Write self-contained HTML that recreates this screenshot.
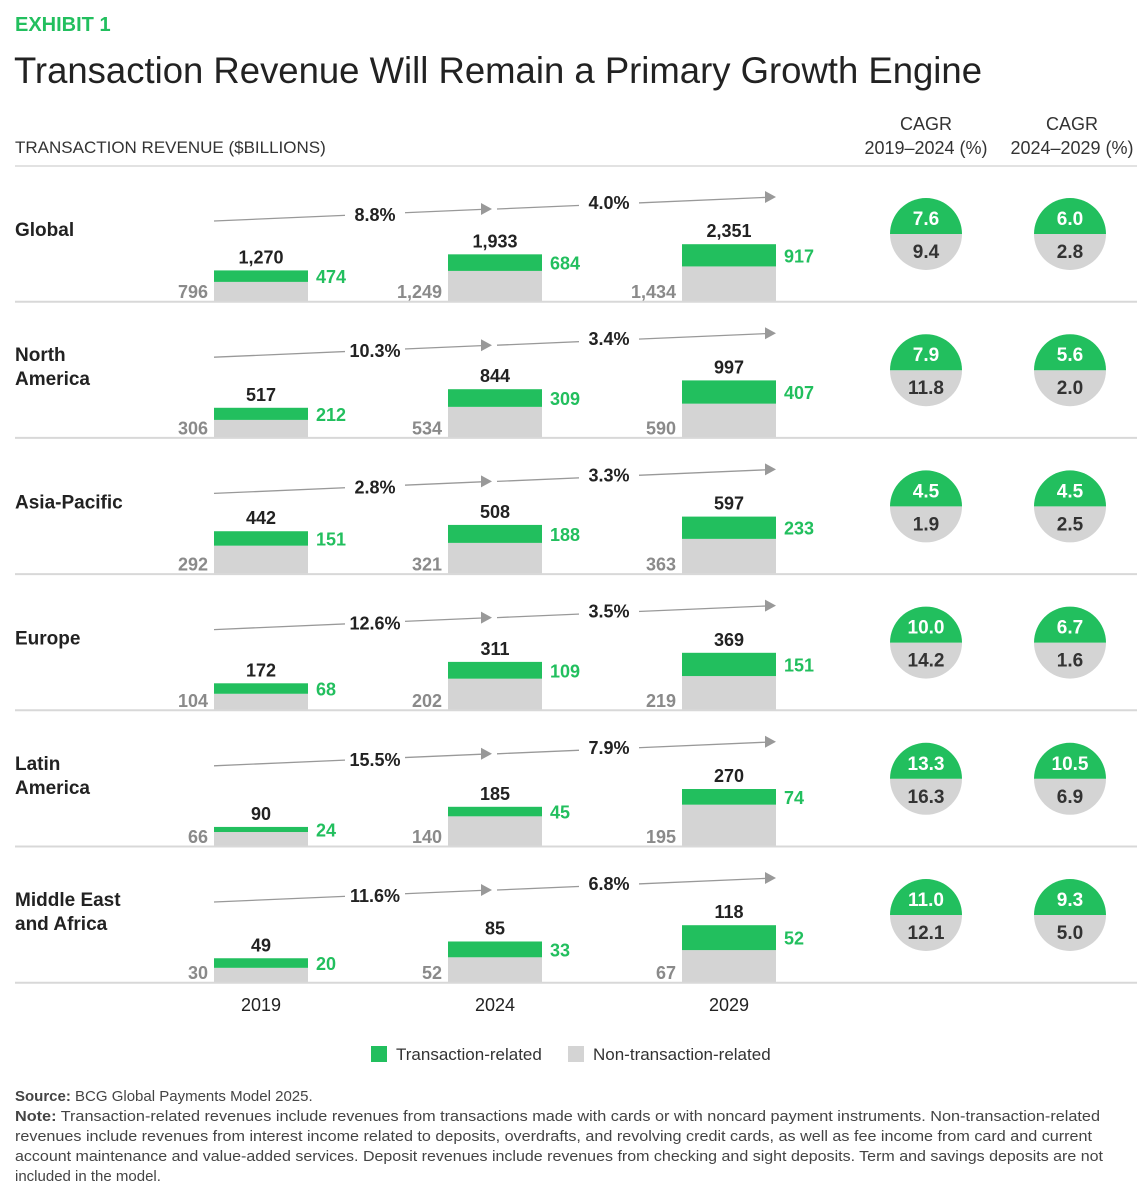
<!DOCTYPE html>
<html><head><meta charset="utf-8"><style>
body{margin:0;background:#fff;}
svg{display:block;font-family:"Liberation Sans",sans-serif;}
</style></head><body>
<svg id="chart" width="1148" height="1200" viewBox="0 0 1148 1200">
<text x="15" y="31" font-size="20" font-weight="bold" fill="#22bf5e">EXHIBIT 1</text>
<text x="14" y="83" font-size="37" fill="#222" textLength="968" lengthAdjust="spacingAndGlyphs">Transaction Revenue Will Remain a Primary Growth Engine</text>
<text x="15" y="153" font-size="17" fill="#333">TRANSACTION REVENUE ($BILLIONS)</text>
<text x="926" y="130" font-size="18" fill="#333" text-anchor="middle">CAGR</text>
<text x="926" y="154" font-size="18" fill="#333" text-anchor="middle">2019–2024 (%)</text>
<text x="1072" y="130" font-size="18" fill="#333" text-anchor="middle">CAGR</text>
<text x="1072" y="154" font-size="18" fill="#333" text-anchor="middle">2024–2029 (%)</text>
<line x1="15" y1="166" x2="1137" y2="166" stroke="#e2e2e2" stroke-width="2"/>
<g id="panels"></g>
<g>
<rect x="371" y="1046" width="16" height="16" fill="#22bf5e"/>
<text x="396" y="1060" font-size="17" fill="#333">Transaction-related</text>
<rect x="568" y="1046" width="16" height="16" fill="#d4d4d4"/>
<text x="593" y="1060" font-size="17" fill="#333">Non-transaction-related</text>
</g>
<g font-size="15" fill="#444">
<text x="15" y="1101"><tspan font-weight="bold">Source:</tspan> BCG Global Payments Model 2025.</text>
<text x="15" y="1121" textLength="1085" lengthAdjust="spacingAndGlyphs"><tspan font-weight="bold">Note:</tspan> Transaction-related revenues include revenues from transactions made with cards or with noncard payment instruments. Non-transaction-related</text>
<text x="15" y="1141" textLength="1077" lengthAdjust="spacingAndGlyphs">revenues include revenues from interest income related to deposits, overdrafts, and revolving credit cards, as well as fee income from card and current</text>
<text x="15" y="1161" textLength="1088" lengthAdjust="spacingAndGlyphs">account maintenance and value-added services. Deposit revenues include revenues from checking and sight deposits. Term and savings deposits are not</text>
<text x="15" y="1181">included in the model.</text>
</g>
</svg>
<script>
const regions = [["Global"],["North","America"],["Asia-Pacific"],["Europe"],["Latin","America"],["Middle East","and Africa"]];
const years = ["2019","2024","2029"];
const transaction = [[474,684,917],[212,309,407],[151,188,233],[68,109,151],[24,45,74],[20,33,52]];
const nonTransaction = [[796,1249,1434],[306,534,590],[292,321,363],[104,202,219],[66,140,195],[30,52,67]];
const totals = [["1,270","1,933","2,351"],["517","844","997"],["442","508","597"],["172","311","369"],["90","185","270"],["49","85","118"]];
const growth1 = ["8.8%","10.3%","2.8%","12.6%","15.5%","11.6%"];
const growth2 = ["4.0%","3.4%","3.3%","3.5%","7.9%","6.8%"];
const cagrTx1 = ["7.6","7.9","4.5","10.0","13.3","11.0"];
const cagrNon1 = ["9.4","11.8","1.9","14.2","16.3","12.1"];
const cagrTx2 = ["6.0","5.6","4.5","6.7","10.5","9.3"];
const cagrNon2 = ["2.8","2.0","2.5","1.6","6.9","5.0"];

const NS="http://www.w3.org/2000/svg";
const G="#22bf5e", GR="#d4d4d4";
const panels=document.getElementById('panels');
function mk(tag,attrs,parent,txt){const e=document.createElementNS(NS,tag);for(const k in attrs)e.setAttribute(k,attrs[k]);if(txt!==undefined)e.textContent=txt;parent.appendChild(e);return e;}
const top0=166, step=136.2, barX=[214,448,682], barW=94, maxH=57;
const fmt=n=>n.toLocaleString('en-US');
regions.forEach((r,i)=>{
  const t=top0+i*step, base=t+step-1;
  const g=mk('g',{},panels);
  
  
  const lbl=mk('text',{x:15,y:r.length==1?t+70:t+59,'font-size':19,'font-weight':'bold',fill:'#222'},g);
  
  
  r.forEach((s,k)=>mk('tspan',{x:15,dy:k?24:0},lbl,s));
  const maxT=Math.max(...transaction[i].map((v,j)=>v+nonTransaction[i][j]));
  const sc=maxH/maxT;
  years.forEach((y,j)=>{
    const hn=nonTransaction[i][j]*sc, ht=transaction[i][j]*sc, x=barX[j];
    const b1=mk('rect',{x:x,y:base-hn,width:barW,height:hn,fill:GR},g);
    
    
    const b2=mk('rect',{x:x,y:base-hn-ht,width:barW,height:ht,fill:G},g);
    
    
    const tt=mk('text',{x:x+barW/2,y:base-hn-ht-7,'font-size':18,'font-weight':'bold',fill:'#222','text-anchor':'middle'},g,totals[i][j]);
    
    
    const gl=mk('text',{x:x+barW+8,y:base-hn-ht/2+7,'font-size':18,'font-weight':'bold',fill:G},g,fmt(transaction[i][j]));
    
    
    const nl=mk('text',{x:x-6,y:base-3,'font-size':18,'font-weight':'bold',fill:'#8a8a8a','text-anchor':'end'},g,fmt(nonTransaction[i][j]));
    
    
  });
  [[214,492,t+55,t+43,growth1[i]],[497,776,t+43,t+31,growth2[i]]].forEach((a,k)=>{
    const ln=mk('line',{x1:a[0],y1:a[2],x2:a[1]-10,y2:a[3]+0.4,stroke:'#999','stroke-width':1.3},g);
    
    
    const hd=mk('polygon',{points:`${a[1]},${a[3]} ${a[1]-11},${a[3]-6} ${a[1]-11},${a[3]+6}`,fill:'#999'},g);
    
    
    const mx=k?609:375, my=(a[2]+a[3])/2;
    const bg=mk('rect',{x:mx-30,y:my-12,width:60,height:22,fill:'#fff'},g);
    
    
    const gt=mk('text',{x:mx,y:my+6,'font-size':18,'font-weight':'bold',fill:'#222','text-anchor':'middle'},g,a[4]);
    
    
  });
  [[926,cagrTx1[i],cagrNon1[i]],[1070,cagrTx2[i],cagrNon2[i]]].forEach((c,k)=>{
    const cx=c[0], cy=t+68, R=36;
    const bot=mk('path',{d:`M${cx-R},${cy} A${R},${R} 0 0 0 ${cx+R},${cy} Z`,fill:GR},g);
    
    
    const tp=mk('path',{d:`M${cx-R},${cy} A${R},${R} 0 0 1 ${cx+R},${cy} Z`,fill:G},g);
    
    
    const a=mk('text',{x:cx,y:cy-9,'font-size':19,'font-weight':'bold',fill:'#fff','text-anchor':'middle'},g,c[1]);
    
    
    const b=mk('text',{x:cx,y:cy+24,'font-size':19,'font-weight':'bold',fill:'#333','text-anchor':'middle'},g,c[2]);
    
    
  });
  const sep=mk('line',{x1:15,y1:base+0.5,x2:1137,y2:base+0.5,stroke:'#d8d8d8','stroke-width':2},g);
  
  
});
years.forEach((y,j)=>{
  const e=mk('text',{x:barX[j]+barW/2,y:1011,'font-size':18,fill:'#222','text-anchor':'middle'},panels,y);
  
  
});
</script>
</body></html>
